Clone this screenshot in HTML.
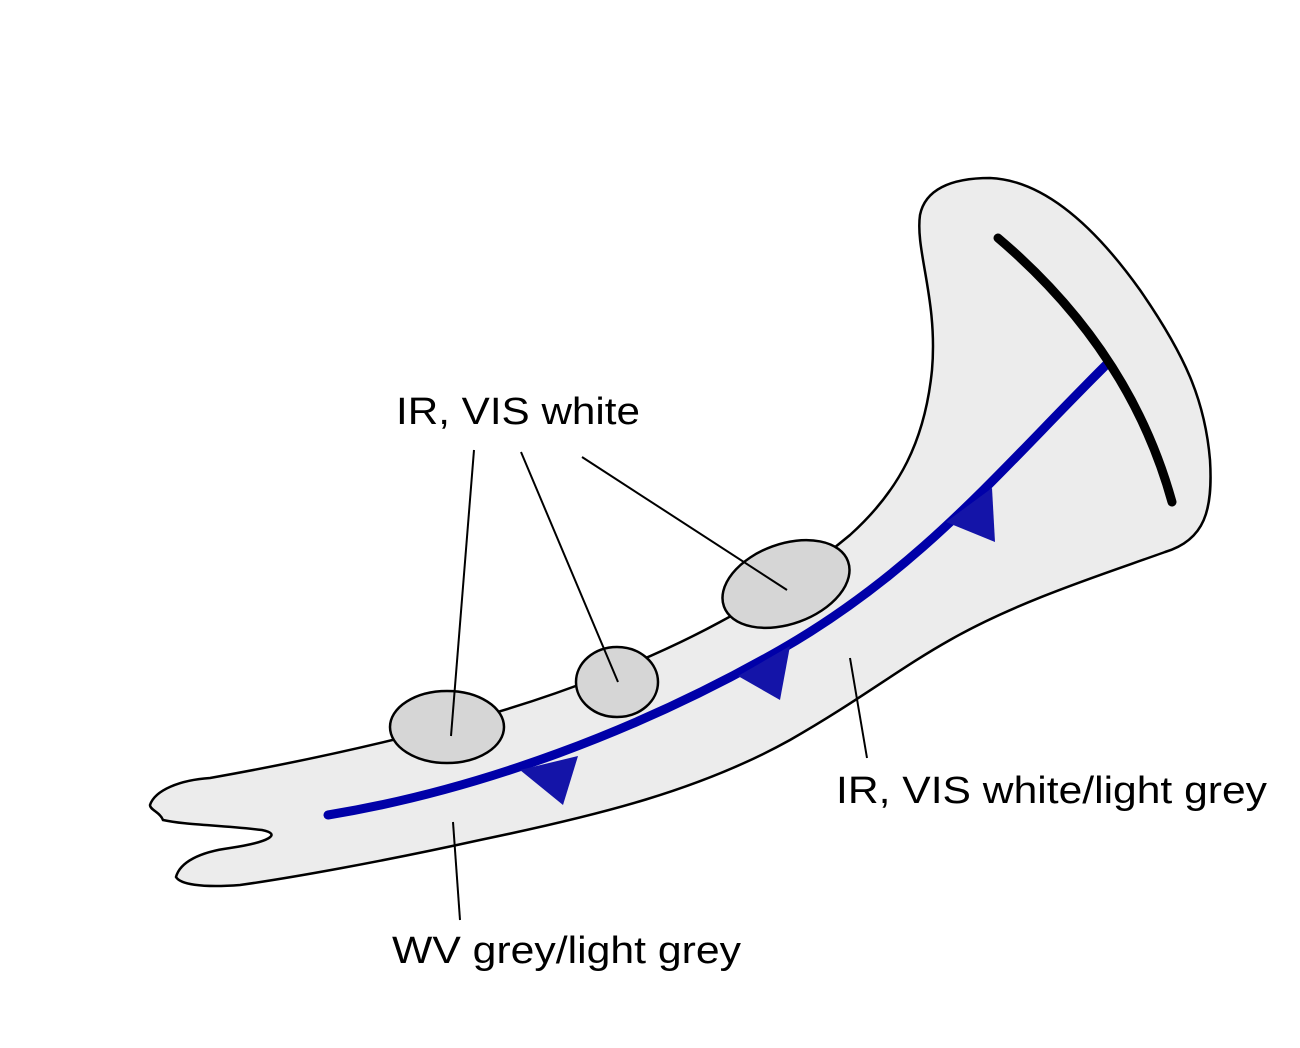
<!DOCTYPE html>
<html><head><meta charset="utf-8"><style>html,body{margin:0;padding:0;background:#fff}svg{display:block}</style></head>
<body>
<svg width="1300" height="1048" viewBox="0 0 1300 1048" xmlns="http://www.w3.org/2000/svg">
<path d="M210,778 C300,762 390,742 470,720 C560,695 650,660 720,622 C780,590 820,560 850,535 C900,490 925,440 932,370 C938,300 915,250 920,215 C925,190 950,178 990,178 C1040,180 1090,220 1140,290 C1185,355 1205,400 1210,460 C1213,510 1205,540 1165,552 C1110,572 1020,600 950,640 C900,668 860,700 790,740 C700,790 600,815 480,840 C380,862 290,878 240,885 C200,888 180,884 176,877 C180,862 200,852 230,848 C270,842 282,834 262,830 C220,825 185,825 163,820 C160,812 150,810 150,805 C155,790 180,780 210,778 Z" fill="#ececec" stroke="#000" stroke-width="2.5"/>
<ellipse cx="447" cy="727" rx="57" ry="36" fill="#d6d6d6" stroke="#000" stroke-width="2.5"/>
<ellipse cx="617" cy="682" rx="41" ry="35" fill="#d6d6d6" stroke="#000" stroke-width="2.5"/>
<ellipse cx="786" cy="584" rx="66" ry="40" transform="rotate(-20 786 584)" fill="#d6d6d6" stroke="#000" stroke-width="2.5"/>
<path d="M328,815 C480,790 640,730 780,650 S1000,470 1108,363" fill="none" stroke="#0000a8" stroke-width="9" stroke-linecap="round"/>
<polygon points="520,770 578,756 563,805" fill="#1414a8"/>
<polygon points="738,676 790,646 780,700" fill="#1414a8"/>
<polygon points="946,522 992,488 995,542" fill="#1414a8"/>
<path d="M998,238 Q1130,350 1172,502" fill="none" stroke="#000" stroke-width="9" stroke-linecap="round"/>
<g stroke="#000" stroke-width="2">
<line x1="474" y1="450" x2="451" y2="736"/>
<line x1="521" y1="452" x2="618" y2="682"/>
<line x1="582" y1="457" x2="787" y2="590"/>
<line x1="850" y1="658" x2="867" y2="758"/>
<line x1="453" y1="822" x2="460" y2="920"/>
</g>
<g font-family="Liberation Sans, sans-serif" font-size="38" fill="#000">
<text x="396" y="424" textLength="244" lengthAdjust="spacingAndGlyphs">IR, VIS white</text>
<text x="836" y="803" textLength="431" lengthAdjust="spacingAndGlyphs">IR, VIS white/light grey</text>
<text x="392" y="963" textLength="349" lengthAdjust="spacingAndGlyphs">WV grey/light grey</text>
</g>
</svg>
</body></html>
